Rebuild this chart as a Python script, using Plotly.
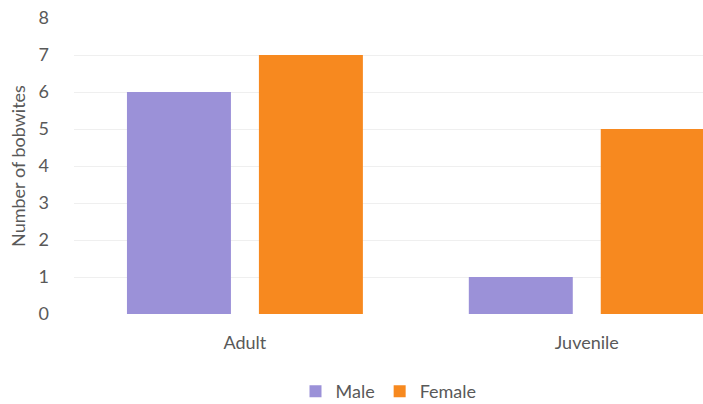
import plotly.graph_objects as go

categories = ["Adult", "Juvenile"]
male = [6, 1]
female = [7, 5]
y_ticks = [0, 1, 2, 3, 4, 5, 6, 7, 8]

font_family = "Lato, Open Sans, sans-serif"
grey = "#595959"

fig = go.Figure()
fig.add_trace(go.Bar(name="Male", x=categories, y=male, marker_color="#9b91d8",
                     marker_line_width=0))
fig.add_trace(go.Bar(name="Female", x=categories, y=female, marker_color="#f7891f",
                     marker_line_width=0))

fig.update_layout(
    width=703, height=404,
    margin=dict(l=74, r=0, t=18, b=90, autoexpand=False),
    paper_bgcolor="white", plot_bgcolor="white",
    barmode="group", bargap=0.228, bargroupgap=0.212,
    font=dict(family=font_family, size=17, color=grey),
    legend=dict(orientation="h", x=0.5, xanchor="center", y=-0.262, yanchor="middle",
                font=dict(size=18, color=grey), itemwidth=30, traceorder="normal"),
    showlegend=True,
)
fig.update_xaxes(range=[-0.5, 1.34], showgrid=False, showline=False, ticks="",
                 automargin=False,
                 ticklabelstandoff=16, tickfont=dict(size=18, color=grey))
fig.update_yaxes(range=[0, 8], tickvals=y_ticks, showgrid=True, gridcolor="#efefef",
                 gridwidth=1, zeroline=False, showline=False, ticks="",
                 automargin=False,
                 ticklabelstandoff=24, tickfont=dict(size=18, color=grey),
                 title=dict(text="Number of bobwites", font=dict(size=18, color=grey),
                            standoff=8))

fig.write_html("out.html")
